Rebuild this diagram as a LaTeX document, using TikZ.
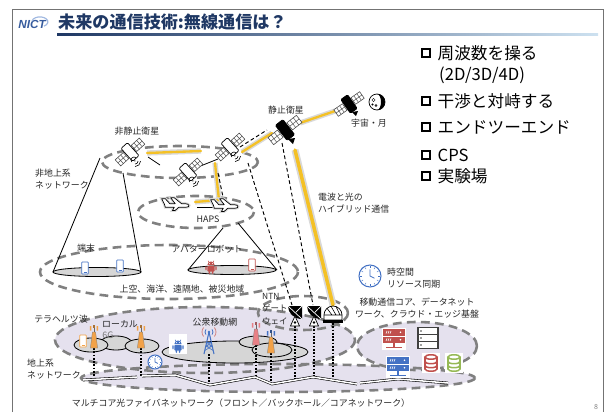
\documentclass[tikz,border=0pt]{standalone}
\usepackage{fontspec}
\setmainfont{Noto Sans CJK JP}
\newfontfamily\logofont{Liberation Sans}
\usetikzlibrary{positioning,calc}

\definecolor{navy}{RGB}{31,56,100}
\definecolor{sky}{RGB}{205,225,240}
\definecolor{gold}{RGB}{244,193,38}
\definecolor{ring}{RGB}{128,128,128}
\definecolor{lilac}{RGB}{229,225,238}
\definecolor{disc}{RGB}{214,214,214}
\definecolor{tblue}{RGB}{68,114,196}
\definecolor{tred}{RGB}{192,80,77}
\definecolor{torange}{RGB}{242,162,72}
\definecolor{tpink}{RGB}{232,128,134}
\definecolor{tgreen}{RGB}{150,185,85}
\definecolor{rack}{RGB}{64,64,64}

\tikzset{
  pics/sat/.style={code={
    \foreach \s in {-1,1} {
      \draw[black!70, fill=white, line width=0.5pt] (5*\s,-3.8) rectangle (15*\s,3.8);
      \draw[black!70, line width=0.4pt] (8.3*\s,-3.8) -- (8.3*\s,3.8)
        (11.7*\s,-3.8) -- (11.7*\s,3.8) (5*\s,0) -- (15*\s,0);
    }
    \draw[line width=0.6pt, fill=#1, rounded corners=1pt] (-4,-8) rectangle (4,8);
  }},
  pics/beam/.style={code={
    \draw[line width=0.5pt] (0,-3) arc (270:90:3);
    \fill (1.2,0) circle (0.6);
    \draw[line width=0.5pt] (3.6,-2.1) arc (-45:45:3);
    \draw[line width=0.5pt] (5.4,-3.9) arc (-45:45:5.5);
  }},
  pics/plane/.style={code={
    \draw[line width=0.6pt, fill=white, line join=round,
          preaction={draw=black!15, line width=2.5pt}]
      (-14,-1) -- (-17,-7) -- (-13,-7) -- (-8,-1.5)
      -- (-2,-1.5) -- (-7,-8) -- (-3,-8) -- (5,-1.5)
      -- (9,-1.5) .. controls (14,-1.5) and (15,2.5) .. (10,2.5)
      -- (2,2.5) -- (-2,6) -- (-5,6) -- (-3,2.5)
      -- (-13,2.5) -- cycle;
  }},
  pics/phone/.style={code={
    \draw[#1, line width=0.7pt, fill=white, rounded corners=0.6pt] (-3.3,-6) rectangle (3.3,6);
    \draw[#1, line width=0.4pt] (-1.5,4.3) -- (1.5,4.3);
  }},
  pics/robot/.style={code={
    \fill[#1] (-4.5,-1.2) arc (180:360:4.5) -- cycle;
    \draw[#1, line width=0.5pt] (-2.5,-4.8) -- (-3.5,-6.5) (2.5,-4.8) -- (3.5,-6.5);
    \fill[white] (-1.8,-3) circle (0.6) (1.8,-3) circle (0.6);
    \fill[#1, rounded corners=0.8pt] (-4.5,-0.3) rectangle (4.5,7);
    \fill[#1, rounded corners=0.8pt] (-7,0) rectangle (-5.4,5.5) (5.4,0) rectangle (7,5.5);
    \fill[#1, rounded corners=0.8pt] (-3,6) rectangle (-1,10) (1,6) rectangle (3,10);
  }},
  pics/bts/.style 2 args={code={
    \fill[#1, draw=black!50, line width=0.3pt] (-3.6,11) -- (3.6,11) -- (1.6,-5) -- (-1.6,-5) -- cycle;
    \draw[black!60, line width=0.5pt] (0,-5) -- (0,-11);
    \fill[#2] (-4.2,-11) rectangle (-2.6,-6.5) (2.6,-11) rectangle (4.2,-6.5);
    \fill[#2!70!black] (-1,-12) rectangle (1,-9);
  }},
  pics/mast/.style={code={
    \draw[tblue, line width=0.9pt, line join=round] (-5,14) -- (0,-8) -- (5,14);
    \draw[tblue, line width=0.5pt] (-2.4,2.5) -- (2.4,2.5) (-3.2,6) -- (3.2,6)
      (-3.2,6) -- (2.4,2.5) (3.2,6) -- (-2.4,2.5) (-4.2,10.5) -- (3.2,6) (4.2,10.5) -- (-3.2,6);
    \fill[tblue] (0,-8) circle (1.3);
    \draw[tblue, line width=0.7pt] (-3.06,-5.43) arc (140:220:4) (3.06,-10.57) arc (-40:40:4);
    \draw[tred!70, line width=0.7pt] (-5.36,-3.5) arc (140:220:7) (5.36,-12.5) arc (-40:40:7);
  }},
  pics/dish/.style={code={
    \fill (-7,-8) -- (7,-8) -- (7,5) .. controls (-1,5) and (-7,-1) .. (-7,-8) -- cycle;
    \draw[white, line width=0.6pt] (-7,-8) -- (7,5) (7,-8) -- (1,-2);
    \draw[line width=0.6pt, fill=white] (0,2) -- (-4.5,12) -- (4.5,12) -- cycle;
    \fill (0,8.5) circle (1.3);
  }},
  pics/ogs/.style={code={
    \draw[line width=0.6pt, fill=white] (-9,6) -- (-9,1) arc (180:360:9) -- (9,6) -- cycle;
    \draw[line width=0.5pt] (-9,1) -- (9,1) (-6,-5.7) -- (-1,1) (-2,-7.8) -- (3,1) (3,-7.5) -- (7,1);
    \fill (-10,6) rectangle (10,8.5);
  }},
  pics/clock/.style={code={
    \draw[tblue, line width=0.9pt, fill=white] (0,0) circle (10);
    \foreach \a in {0,30,...,330} \draw[tblue, line width=0.4pt] (\a:7.3) -- (\a:8.7);
    \draw[tblue, line width=0.7pt] (0,-6) -- (0,0) -- (4,2);
  }},
  pics/server/.style 2 args={code={
    \fill[white] (-12,-11) rectangle (12,11);
    \fill[#1] (-11,-10) rectangle (11,-3.5);
    \fill[#2] (-11,-2.5) rectangle (11,4);
    \foreach \yy in {-6.75,0.75} {
      \draw[white, line width=0.5pt] (-8,\yy+1.3) -- (-7,\yy-1.3) (-6,\yy+1.3) -- (-5,\yy-1.3) (-4,\yy+1.3) -- (-3,\yy-1.3);
      \fill[white] (6.5,\yy) circle (0.9);
    }
    \draw[#2, line width=1.1pt] (0,4) -- (0,8.5) (-8,8.5) -- (8,8.5);
  }},
  pics/rack/.style={code={
    \fill[rack] (-11,-11) rectangle (11,11);
    \foreach \yy in {-7,0,7} {
      \fill[white] (-9,\yy-2.6) rectangle (9,\yy+2.6);
      \fill[rack] (-7,\yy) circle (0.8);
    }
  }},
  pics/dbase/.style={code={
    \fill[white] (-9,-10) rectangle (9,10);
    \begin{scope}[#1, line width=1.3pt]
      \draw (0,-6) ellipse (6 and 2.2);
      \draw (-6,-6) -- (-6,6) arc (180:0:6 and 2.2) -- (6,-6);
      \draw (-6,-1.5) arc (180:0:6 and 2.2) (-6,2.5) arc (180:0:6 and 2.2);
    \end{scope}
  }},
  pics/moon/.style={code={
    \draw[line width=0.6pt, fill=white] (0,0) circle (8);
    \fill (0,-8) arc (270:450:8) arc (90:-90:4 and 8) -- cycle;
    \draw[line width=0.4pt] (-3.5,-2) circle (1.6) (-1,3.5) circle (1) (-4.5,2.5) circle (0.7);
  }},
}

\begin{document}
\begin{tikzpicture}[x=0.03cm, y=-0.03cm,
  lbl/.style={font=\fontsize{7.6}{10.2}\selectfont, text=black!85, inner sep=0, align=left},
  listitem/.style={font=\fontsize{14.2}{16}\selectfont, anchor=west, inner sep=0},
  chk/.style={draw, line width=1.8pt, minimum size=6.8pt, inner sep=0},
  zone/.style={draw=ring, line width=2.2pt, dash pattern=on 7.5pt off 4.5pt},
  laser/.style={gold, line width=2pt, line cap=round, preaction={draw=black!15, line width=4.5pt}},
  radio/.style={line width=0.7pt},
  feed/.style={line width=0.8pt, dash pattern=on 3.2pt off 2.2pt},
  drop/.style={line width=2pt, dash pattern=on 1.5pt off 1.3pt},
  fibre/.style={line width=0.5pt, double=white, double distance=1.3pt},
  cell/.style={draw, line width=0.7pt, fill=disc},
]
\useasboundingbox (0,0) rectangle (609,412);

\draw[black!55, line width=0.8pt] (12,412) -- (12,9) -- (603,9) -- (603,412);
\node[font=\logofont\bfseries\itshape\fontsize{10}{10}\selectfont, text=tblue!80!black, inner sep=0] (logo) at (32,24) {NICT};
\draw[tblue!50, line width=1pt] (32,21) arc (190:420:8 and 5);
\node[font=\bfseries\fontsize{14.6}{18}\selectfont, text=navy, anchor=west, inner sep=0] (title) at (58,22) {未来の通信技術:無線通信は？};
\shade[left color=navy, right color=sky] (57,33) rectangle (598,35.5);

\node[chk] (b1) at (426,53) {};
\node[listitem, right=5.5pt of b1] (t1) {周波数を操る};
\node[listitem] (t1b) at (439,75) {(2D/3D/4D)};
\node[chk] (b2) at (426,101) {};
\node[listitem, right=5.5pt of b2] (t2) {干渉と対峙する};
\node[chk] (b3) at (426,127) {};
\node[listitem, right=5.5pt of b3] (t3) {エンドツーエンド};
\node[chk] (b4) at (426,155) {};
\node[listitem, right=5.5pt of b4] (t4) {CPS};
\node[chk] (b5) at (426,176) {};
\node[listitem, right=5.5pt of b5] (t5) {実験場};

\fill[lilac] (205,340) ellipse (150 and 33);
\fill[lilac] (278,378) ellipse (197 and 14);
\fill[lilac] (417,346) ellipse (60 and 24);
\draw[zone] (180,162) ellipse (78 and 16);
\draw[zone] (196,212) ellipse (58 and 16);
\draw[zone] (169,272) ellipse (129 and 27);
\draw[zone] (205,340) ellipse (150 and 33);
\draw[zone] (303,313) ellipse (45 and 17);
\draw[zone] (417,346) ellipse (60 and 24);
\draw[zone] (278,378) ellipse (197 and 14);

\draw[radio] (100,158) -- (53,272) (123,173) -- (141,272);
\draw[radio, fill=disc] (97,272) ellipse (44 and 4.5);
\draw[radio] (223,228) -- (188,270) (238,223) -- (277,270);
\draw[radio, fill=disc] (232,270) ellipse (44 and 4.5);
\pic at (85,268) {phone=tblue};
\pic at (120,266) {phone=tblue};
\pic[scale=0.8] at (211,266) {robot=tred};
\pic at (252,265) {phone=tred};

\coordinate (leo1) at (130,152);
\coordinate (leo2) at (188,172);
\coordinate (leo3) at (230,147);
\coordinate (geo) at (285,130);
\coordinate (deep) at (349,104);
\coordinate (plane1) at (177,205);
\coordinate (plane2) at (226,206);
\coordinate (bts1) at (94,337);
\coordinate (bts2) at (141,337);
\coordinate (mast) at (209,340);
\coordinate (bts3) at (256,334);
\coordinate (bts4) at (271,342);
\coordinate (gw1) at (295,314);
\coordinate (gw2) at (314,314);
\coordinate (ogs) at (333,314);
\coordinate (f1) at (83,380);
\coordinate (f2) at (137,377);
\coordinate (f3) at (142,376);
\coordinate (f4) at (175,375);
\coordinate (f5) at (210,385);
\coordinate (f6) at (255,377);
\coordinate (f7) at (272,384);
\coordinate (f8) at (313,377);
\coordinate (f9) at (357,384);
\coordinate (f10) at (360,383);
\coordinate (f11) at (398,379);
\coordinate (f12) at (448,383);

\draw[laser] ($(leo1)+(17,1)$) -- ($(leo3)+(-29,4)$);
\draw[radio] ($(leo1)+(18,5)$) -- ($(leo2)+(-28,-7)$);
\draw[radio] ($(leo2)+(10,-5)$) -- ($(leo3)+(-12,12)$);
\draw[laser] ($(leo3)+(-15,16)$) -- ($(plane2)+(-7,-6)$) -- ($(plane1)+(18,-3)$);
\draw[feed] ($(leo3)+(-12,26)$) -- ($(plane2)+(-3,-9)$);
\draw[radio] ($(plane1)+(20,2)$) -- ($(plane2)+(-8,1)$);
\draw[laser] ($(leo3)+(12,5)$) -- ($(geo)+(-13,3)$);
\draw[feed] ($(leo3)+(10,0)$) -- ($(geo)+(-18,0)$);
\draw[laser] ($(geo)+(15,-7)$) -- ($(deep)+(-11,6)$);
\draw[laser, line width=3pt, preaction={draw=black!15, line width=6pt}] ($(geo)+(10,20)$) -- ($(ogs)+(0,-9)$);
\draw[feed] ($(leo3)+(18,16)$) -- ($(gw1)+(-3,-9)$);
\draw[feed] ($(geo)+(-3,13)$) -- ($(gw2)+(-1,-9)$);

\pic[rotate=42, scale=1.08] at (leo1) {sat=white};
\pic[rotate=-45] at ($(leo1)+(4,8)$) {beam};
\pic[rotate=42, scale=1.08] at (leo2) {sat=white};
\pic[rotate=-45] at ($(leo2)+(4,8)$) {beam};
\pic[rotate=42, scale=1.08] at (leo3) {sat=white};
\pic[rotate=-45] at ($(leo3)+(4,8)$) {beam};
\pic[rotate=38, scale=1.2] at (geo) {sat=black};
\fill ($(geo)+(3,9)$) -- ++(7,-1) -- ++(-2,6) -- cycle;
\pic[rotate=35, scale=1.05] at (deep) {sat=black};
\fill ($(deep)+(3,8)$) -- ++(6,-1) -- ++(-2,5) -- cycle;
\pic at (377,102) {moon};
\pic[scale=0.9] at (plane1) {plane};
\pic[scale=0.9] at (plane2) {plane};

\draw[cell] (116,343) ellipse (16 and 7);
\draw[cell] (91,345) ellipse (17 and 7);
\draw[cell] (142,346) ellipse (17 and 7);
\draw[cell] (235,352) ellipse (73 and 11);
\draw[cell] (258,342) ellipse (19 and 6);
\draw[cell] (272,350) ellipse (20 and 7);

\draw[drop] ($(bts1)+(0,11)$) -- (bts1 |- f1);
\draw[drop] ($(bts2)+(0,11)$) -- (bts2 |- f3);
\draw[drop] ($(mast)+(0,14)$) -- (mast |- f5);
\draw[drop] ($(bts3)+(0,11)$) -- (bts3 |- f6);
\draw[drop] ($(bts4)+(0,11)$) -- (bts4 |- f7);
\draw[drop] ($(gw1)+(0,12)$) -- (gw1 |- f1);
\draw[drop] ($(gw2)+(0,12)$) -- (gw2 |- f8);
\draw[drop] ($(ogs)+(0,9)$) -- (ogs |- f1);
\draw[fibre] (f1) -- (f2);
\draw[fibre] (f3) -- (f4) -- (f5) -- (f6) -- (f7) -- (f8) -- (f9);
\draw[fibre] (f10) -- (f11) -- (f12);

\pic at (bts1) {bts={torange}{torange}};
\pic at (bts2) {bts={torange}{torange}};
\pic at (bts3) {bts={tpink}{tpink}};
\pic at (bts4) {bts={torange}{tblue}};
\pic at (mast) {mast};
\pic at (83,341) {phone=torange};
\fill[white] (169,334) rectangle (187,354);
\pic[scale=0.8] at (178,345) {robot=tblue};
\pic[scale=0.7] at (155,362) {clock};
\pic at (gw1) {dish};
\pic at (gw2) {dish};
\pic at (ogs) {ogs};
\pic[scale=1.1] at (370,276) {clock};
\pic at (394,339) {server={tred}{tred}};
\pic at (428,338) {rack};
\pic at (398,367) {server={tblue}{tblue}};
\pic at (431,363) {dbase=tred};
\pic at (454,363) {dbase=tgreen};

\node[lbl] (nongeo) at (137,131) {非静止衛星};
\node[lbl] (geolbl) at (286,110) {静止衛星};
\node[lbl] (space) at (369,123) {宇宙・月};
\node[lbl, anchor=west] (ntnet) at (35,179) {非地上系\\ネットワーク};
\node[lbl] (haps) at (208,219) {HAPS};
\node[lbl, anchor=west] (hybrid) at (318,203) {電波と光の\\ハイブリッド通信};
\node[lbl] (term) at (86,248) {端末};
\node[lbl] (avatar) at (207,249) {アバターロボット};
\node[lbl] (remote) at (182,289) {上空、海洋、遠隔地、被災地域};
\node[lbl, anchor=west, font=\fontsize{7.2}{10.6}\selectfont] (ntngw) at (262,309) {NTN\\ゲート\\ウェイ};
\node[lbl] (thz) at (61,319) {テラヘルツ波};
\node[lbl] (local) at (120,324) {ローカル};
\node[lbl, text=black!55] (sixg) at (108,335) {6G};
\node[lbl] (public) at (215,322) {公衆移動網};
\node[lbl, anchor=west] (tnet) at (27,369) {地上系\\ネットワーク};
\node[lbl] (mcf) at (241,403) {マルチコア光ファイバネットワーク（フロント／バックホール／コアネットワーク）};
\node[lbl, anchor=west] (sync) at (387,278) {時空間\\リソース同期};
\node[lbl, align=center] (core) at (417,308) {移動通信コア、データネット\\ワーク、クラウド・エッジ基盤};
\node[lbl, text=black!50, font=\fontsize{6}{6}\selectfont] (page) at (596,407) {8};
\end{tikzpicture}
\end{document}
